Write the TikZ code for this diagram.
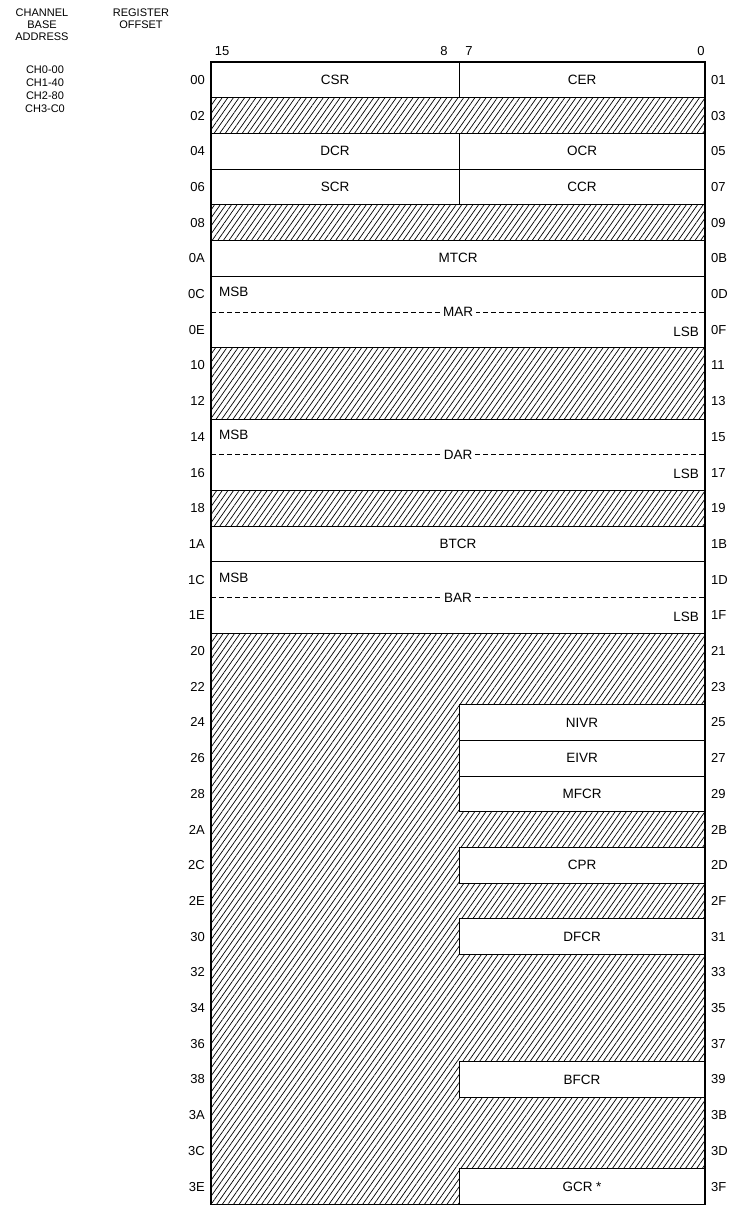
\documentclass[tikz,border=0pt]{standalone}
\usepackage{fontspec}
\setmainfont{Liberation Sans}
\usetikzlibrary{patterns.meta}
\begin{document}
\begin{tikzpicture}[x=1pt,y=-1pt]
\tikzset{
  hatchfill/.style={pattern={Lines[angle=55,distance=4.6pt,line width=0.7pt]}},
  reg/.style={draw=black, line width=1pt, fill=white, inner sep=0pt, outer sep=0pt,
              font=\fontsize{13.5}{15}\selectfont},
  hreg/.style={draw=black, line width=1pt, hatchfill, inner sep=0pt, outer sep=0pt},
  lbl/.style={inner sep=0pt, font=\fontsize{13}{15}\selectfont},
  hdr/.style={inner sep=0pt, font=\fontsize{11}{13}\selectfont},
  intext/.style={inner sep=0pt, font=\fontsize{13.5}{15}\selectfont},
  splitline/.style={line width=0.8pt, dash pattern=on 5pt off 3pt},
}
\useasboundingbox (0,0) rectangle (730,1209);
% cell macro: name, x1, x2, first row, number of rows, style, text
\newcommand\regcell[7]{%
  \pgfmathsetmacro\cw{#3-#2}%
  \pgfmathsetmacro\ch{#5*35.7}%
  \pgfmathsetmacro\cy{62+#4*35.7}%
  \node[#6, minimum width=\cw pt, minimum height=\ch pt, anchor=north west] (#1) at (#2,\cy) {#7};}
\def\L{211}\def\R{705}\def\M{459}
% lower hatched area
\fill[hatchfill] (\L,{62+16*35.7}) rectangle (\R,{62+32*35.7});
% rows
\regcell{csr}{\L}{\M}{0}{1}{reg}{CSR}
\regcell{cer}{\M}{\R}{0}{1}{reg}{CER}
\regcell{h02}{\L}{\R}{1}{1}{hreg}{}
\regcell{dcr}{\L}{\M}{2}{1}{reg}{DCR}
\regcell{ocr}{\M}{\R}{2}{1}{reg}{OCR}
\regcell{scr}{\L}{\M}{3}{1}{reg}{SCR}
\regcell{ccr}{\M}{\R}{3}{1}{reg}{CCR}
\regcell{h08}{\L}{\R}{4}{1}{hreg}{}
\regcell{mtcr}{\L}{\R}{5}{1}{reg}{MTCR}
\regcell{mar}{\L}{\R}{6}{2}{reg}{}
\regcell{h10}{\L}{\R}{8}{2}{hreg}{}
\regcell{dar}{\L}{\R}{10}{2}{reg}{}
\regcell{h18}{\L}{\R}{12}{1}{hreg}{}
\regcell{btcr}{\L}{\R}{13}{1}{reg}{BTCR}
\regcell{bar}{\L}{\R}{14}{2}{reg}{}
\regcell{nivr}{\M}{\R}{18}{1}{reg}{NIVR}
\regcell{eivr}{\M}{\R}{19}{1}{reg}{EIVR}
\regcell{mfcr}{\M}{\R}{20}{1}{reg}{MFCR}
\regcell{cpr}{\M}{\R}{22}{1}{reg}{CPR}
\regcell{dfcr}{\M}{\R}{24}{1}{reg}{DFCR}
\regcell{bfcr}{\M}{\R}{28}{1}{reg}{BFCR}
\regcell{gcr}{\M}{\R}{31}{1}{reg}{GCR *}
% two-word registers: dashed split with MSB/LSB
\foreach \nm/\r/\txt in {mar/6/MAR, dar/10/DAR, bar/14/BAR}{
  \pgfmathsetmacro\yy{62+(\r+1)*35.7}
  \draw[splitline] (\L,\yy) -- (\R,\yy);
  \node[intext, fill=white, inner xsep=3pt, inner ysep=1pt] (\nm lab) at (458,\yy) {\txt};
  \node[intext, anchor=west] (\nm msb) at (219,{62+(\r+0.45)*35.7}) {MSB};
  \node[intext, anchor=east] (\nm lsb) at (699,{62+(\r+1.55)*35.7}) {LSB};
}
% outline and lower-area top border
\draw[line width=1.1pt] (\L,{62+16*35.7}) -- (\R,{62+16*35.7});
\draw[line width=1.1pt] (\L,62) rectangle (\R,{62+32*35.7});
% bit numbers
\node[lbl] (b15) at (222,51) {15};
\node[lbl] (b8) at (444,51) {8};
\node[lbl] (b7) at (469,51) {7};
\node[lbl] (b0) at (701,51) {0};
% row offsets
\foreach \l [count=\i from 0] in {00,02,04,06,08,0A,0C,0E,10,12,14,16,18,1A,1C,1E,20,22,24,26,28,2A,2C,2E,30,32,34,36,38,3A,3C,3E}{
  \node[lbl, anchor=east] (l\l) at (205,{62+(\i+0.5)*35.7}) {\l};}
\foreach \l [count=\i from 0] in {01,03,05,07,09,0B,0D,0F,11,13,15,17,19,1B,1D,1F,21,23,25,27,29,2B,2D,2F,31,33,35,37,39,3B,3D,3F}{
  \node[lbl, anchor=west] (r\l) at (711,{62+(\i+0.5)*35.7}) {\l};}
% headers
\node[hdr] (hc1) at (42,13) {CHANNEL};
\node[hdr] (hc2) at (42,25) {BASE};
\node[hdr] (hc3) at (42,37) {ADDRESS};
\node[hdr] (hr1) at (141,13) {REGISTER};
\node[hdr] (hr2) at (141,25) {OFFSET};
\node[hdr] (ch0) at (45,70) {CH0-00};
\node[hdr] (ch1) at (45,83) {CH1-40};
\node[hdr] (ch2) at (45,96) {CH2-80};
\node[hdr] (ch3) at (45,109) {CH3-C0};
\end{tikzpicture}
\end{document}
